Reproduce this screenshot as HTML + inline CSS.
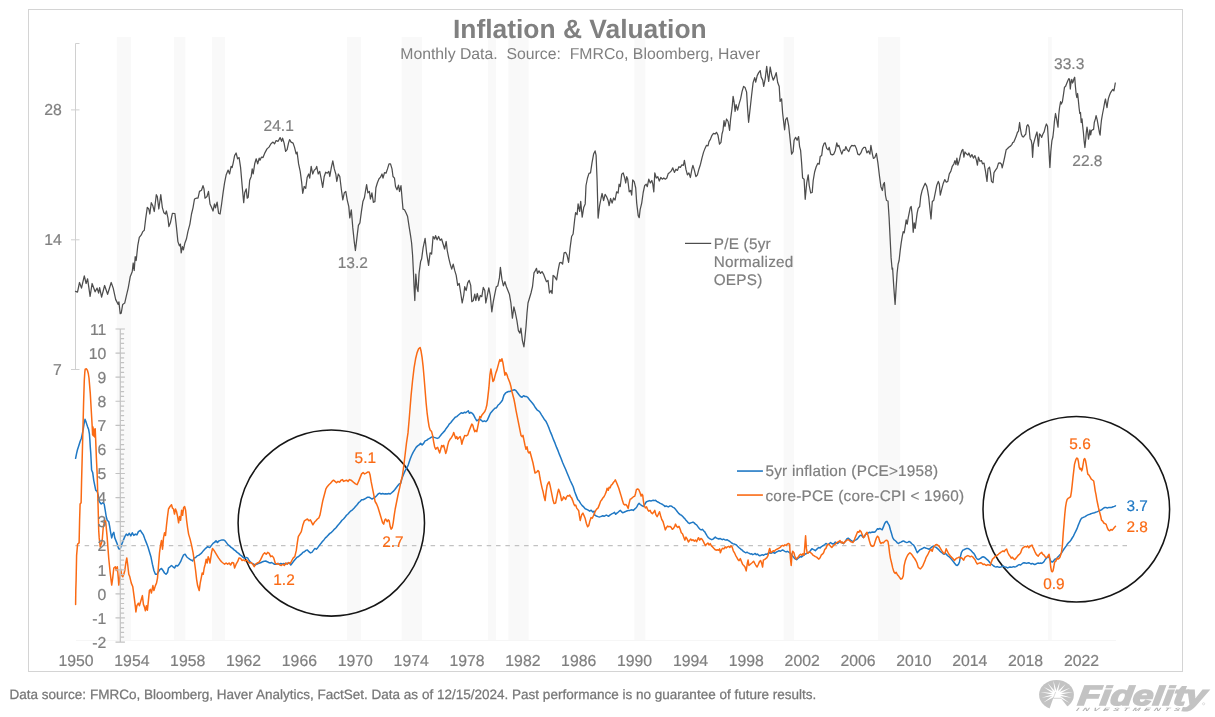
<!DOCTYPE html>
<html><head><meta charset="utf-8"><title>Inflation &amp; Valuation</title>
<style>
html,body{margin:0;padding:0;background:#fff;}
body{width:1215px;height:717px;overflow:hidden;font-family:"Liberation Sans",sans-serif;}
svg{display:block;position:absolute;left:0;top:0;will-change:transform;}
text{font-family:"Liberation Sans",sans-serif;text-rendering:geometricPrecision;}
.ax{font-size:15.8px;fill:#7f7f7f;stroke:#7f7f7f;stroke-width:0.2px;}
.dl{font-size:15.5px;fill:#7f7f7f;stroke:#7f7f7f;stroke-width:0.2px;}
.lg{font-size:15.3px;letter-spacing:0.25px;fill:#7f7f7f;stroke:#7f7f7f;stroke-width:0.2px;}
.or{font-size:15.4px;fill:#fa6a14;stroke:#fa6a14;stroke-width:0.2px;}
.bl{font-size:15.4px;fill:#1f78c4;stroke:#1f78c4;stroke-width:0.2px;}
</style></head><body>
<svg width="1215" height="717" viewBox="0 0 1215 717">
<rect x="0" y="0" width="1215" height="717" fill="#fff"/>
<rect x="28.5" y="9.5" width="1154" height="662" fill="#fff" stroke="#d4d4d4" stroke-width="1"/>

<g fill="#f9f9f9">
<rect x="116.8" y="37" width="14.3" height="603"/>
<rect x="174.1" y="37" width="11.3" height="603"/>
<rect x="211.9" y="37" width="13.0" height="603"/>
<rect x="346.9" y="37" width="14.1" height="603"/>
<rect x="401.7" y="37" width="20.3" height="603"/>
<rect x="487.9" y="37" width="8.1" height="603"/>
<rect x="508.4" y="37" width="20.2" height="603"/>
<rect x="634.3" y="37" width="11.1" height="603"/>
<rect x="783.7" y="37" width="10.4" height="603"/>
<rect x="878.0" y="37" width="22.2" height="603"/>
<rect x="1048.0" y="37" width="3.8" height="603"/>
</g>
<line x1="76" y1="640.5" x2="1116" y2="640.5" stroke="#f6f6f6" stroke-width="1"/>
<text x="579.8" y="38.3" text-anchor="middle" font-size="26.4" font-weight="bold" fill="#808080">Inflation &amp; Valuation</text>
<text x="580.2" y="59.3" text-anchor="middle" font-size="15.8" fill="#7f7f7f" xml:space="preserve">Monthly Data.  Source:  FMRCo, Bloomberg, Haver</text>
<g stroke="#d0d0d0" stroke-width="1" fill="none">
<path d="M79.5,43.5 H75.5 V369.5"/>
<line x1="71" y1="109.9" x2="79.5" y2="109.9"/>
<line x1="71" y1="239.8" x2="79.5" y2="239.8"/>
<line x1="71" y1="369.5" x2="79.5" y2="369.5"/>
</g>
<text class="ax" x="61.9" y="115.1" text-anchor="end">28</text>
<text class="ax" x="61.9" y="245.0" text-anchor="end">14</text>
<text class="ax" x="61.9" y="374.9" text-anchor="end">7</text>
<text class="ax" x="76.0" y="666" text-anchor="middle">1950</text>
<text class="ax" x="131.9" y="666" text-anchor="middle">1954</text>
<text class="ax" x="187.7" y="666" text-anchor="middle">1958</text>
<text class="ax" x="243.6" y="666" text-anchor="middle">1962</text>
<text class="ax" x="299.4" y="666" text-anchor="middle">1966</text>
<text class="ax" x="355.3" y="666" text-anchor="middle">1970</text>
<text class="ax" x="411.2" y="666" text-anchor="middle">1974</text>
<text class="ax" x="467.0" y="666" text-anchor="middle">1978</text>
<text class="ax" x="522.9" y="666" text-anchor="middle">1982</text>
<text class="ax" x="578.7" y="666" text-anchor="middle">1986</text>
<text class="ax" x="634.6" y="666" text-anchor="middle">1990</text>
<text class="ax" x="690.5" y="666" text-anchor="middle">1994</text>
<text class="ax" x="746.3" y="666" text-anchor="middle">1998</text>
<text class="ax" x="802.2" y="666" text-anchor="middle">2002</text>
<text class="ax" x="858.0" y="666" text-anchor="middle">2006</text>
<text class="ax" x="913.9" y="666" text-anchor="middle">2010</text>
<text class="ax" x="969.8" y="666" text-anchor="middle">2014</text>
<text class="ax" x="1025.6" y="666" text-anchor="middle">2018</text>
<text class="ax" x="1081.5" y="666" text-anchor="middle">2022</text>
<line x1="75.3" y1="545.6" x2="1128" y2="545.6" stroke="#c2c2c2" stroke-width="1.45" stroke-dasharray="4.5,4.85"/>
<ellipse cx="331.3" cy="523" rx="93.2" ry="93.1" fill="none" stroke="#161616" stroke-width="1.55"/>
<ellipse cx="1076.3" cy="509.25" rx="93.3" ry="92.75" fill="none" stroke="#161616" stroke-width="1.55"/>
<path d="M75.6,458.3 L76.5,453.8 L77.4,450.0 L78.7,446.0 L80.1,441.6 L81.4,438.2 L82.3,433.8 L83.2,429.3 L84.1,423.7 L85.0,419.3 L85.9,421.5 L86.8,424.4 L87.7,427.1 L88.6,429.3 L89.4,433.8 L89.9,440.4 L90.3,447.1 L90.8,453.8 L91.6,470.0 L92.7,472.6 L93.7,480.1 L94.7,485.1 L95.7,490.1 L97.2,491.4 L98.2,495.2 L99.2,501.4 L100.2,502.7 L101.2,504.0 L102.7,502.7 L104.2,504.0 L105.2,510.2 L106.2,516.5 L107.2,520.3 L108.7,521.5 L109.7,526.6 L110.7,532.8 L111.7,537.9 L112.7,534.1 L113.8,532.3 L114.8,537.9 L115.8,540.4 L117.3,544.1 L118.3,547.9 L119.3,549.2 L120.3,548.4 L121.8,544.1 L123.3,540.4 L124.8,536.6 L126.3,534.1 L127.8,535.4 L129.3,533.3 L130.8,535.9 L132.3,532.8 L133.8,535.4 L135.4,534.1 L136.9,534.9 L138.4,531.6 L140.4,530.3 L141.9,532.8 L143.4,534.9 L144.9,539.1 L146.4,542.9 L147.9,546.7 L149.4,551.7 L150.9,556.7 L152.4,564.2 L153.9,570.5 L155.4,574.3 L157.0,574.3 L158.5,571.8 L160.0,569.3 L161.5,568.5 L163.0,570.5 L164.5,573.0 L166.0,574.3 L167.5,572.5 L168.5,568.0 L170.0,566.8 L171.5,565.5 L173.0,566.8 L174.5,568.0 L176.0,565.5 L177.6,566.0 L179.1,564.2 L180.6,561.7 L182.1,558.0 L183.6,554.9 L185.1,554.2 L186.6,556.7 L188.1,558.0 L189.6,559.2 L191.1,560.0 L192.6,561.0 L194.1,558.0 L195.6,557.5 L197.1,555.9 L198.6,555.4 L200.2,554.2 L201.7,552.9 L203.2,550.9 L204.7,549.2 L206.2,547.9 L207.7,546.7 L209.2,547.4 L210.0,547.4 L211.5,545.4 L213.0,543.4 L214.5,542.4 L216.0,540.9 L217.5,542.4 L219.0,540.9 L220.5,540.4 L222.0,539.9 L223.6,539.9 L225.1,540.9 L226.6,542.9 L228.1,544.9 L229.6,545.9 L231.1,547.4 L232.6,548.4 L234.1,549.9 L235.6,550.9 L237.1,552.4 L238.6,553.4 L240.1,554.9 L241.6,555.9 L243.1,557.4 L244.6,558.4 L246.1,557.4 L247.6,557.9 L249.1,560.5 L250.7,562.5 L252.2,563.5 L253.7,564.2 L255.2,565.0 L256.7,564.2 L258.2,563.5 L259.7,563.0 L261.2,562.5 L262.7,561.7 L264.2,561.2 L265.7,561.0 L267.2,561.7 L268.7,562.5 L270.2,563.0 L271.7,562.5 L273.2,563.5 L274.7,564.2 L276.2,564.2 L277.8,563.5 L279.3,564.2 L280.8,563.5 L282.3,564.2 L283.8,563.5 L285.3,564.2 L286.8,563.5 L288.3,563.0 L289.8,563.5 L290.8,565.0 L292.3,563.0 L293.8,561.0 L295.3,559.2 L296.8,557.4 L298.3,556.7 L299.8,555.4 L301.3,554.2 L302.8,552.4 L304.4,551.7 L305.9,550.4 L307.4,549.9 L308.9,551.7 L310.4,552.9 L311.9,552.4 L313.4,550.4 L314.9,548.4 L316.4,549.2 L317.9,547.4 L319.4,545.4 L320.9,543.4 L322.4,541.6 L323.9,539.9 L325.4,537.9 L326.9,536.6 L328.4,534.9 L329.9,533.4 L331.5,532.3 L333.0,530.8 L334.5,529.1 L336.0,527.8 L337.5,525.8 L339.0,524.1 L340.5,522.3 L342.0,520.3 L343.5,519.0 L345.0,517.3 L346.5,515.3 L348.0,514.0 L349.5,512.3 L351.0,510.8 L352.5,509.8 L354.0,508.3 L355.5,506.5 L357.1,504.7 L358.6,502.7 L360.1,501.5 L361.6,499.7 L363.1,499.7 L364.6,499.0 L366.1,498.2 L367.6,497.2 L369.1,497.2 L370.6,498.2 L372.1,499.0 L373.6,498.2 L375.1,497.2 L376.6,495.7 L378.1,494.0 L379.6,493.2 L381.1,494.0 L382.6,493.5 L384.2,494.0 L385.7,493.7 L387.2,494.0 L388.7,493.5 L390.2,494.0 L391.7,492.7 L393.2,491.4 L394.7,489.7 L396.2,487.7 L397.7,485.7 L399.2,483.9 L400.7,483.2 L402.2,477.6 L403.7,473.9 L405.2,470.6 L406.7,468.1 L408.2,465.1 L410.1,459.2 L411.6,455.5 L413.1,452.4 L414.6,449.9 L416.1,447.4 L417.6,445.9 L419.1,444.9 L420.6,443.4 L422.1,444.9 L423.6,443.4 L425.1,440.9 L426.6,440.4 L428.1,439.1 L429.6,438.4 L431.1,437.4 L432.6,436.6 L434.1,437.4 L435.7,437.9 L437.2,438.4 L438.7,437.9 L440.2,435.9 L441.7,434.1 L443.2,432.4 L444.7,430.9 L446.2,428.4 L447.7,426.6 L449.2,424.1 L450.7,422.8 L452.2,420.8 L453.7,419.1 L455.2,417.3 L456.7,416.6 L458.2,415.3 L459.7,414.0 L461.2,412.8 L462.8,413.3 L464.3,412.3 L465.8,412.8 L467.3,411.5 L468.3,410.8 L469.3,413.3 L470.8,412.3 L472.3,413.3 L473.8,415.3 L475.3,418.3 L476.8,420.8 L478.3,419.8 L479.8,419.1 L481.3,420.3 L482.8,421.6 L484.3,420.8 L485.8,421.6 L487.3,420.3 L488.9,416.6 L490.4,413.3 L491.9,411.5 L493.4,409.8 L494.9,408.3 L496.4,407.8 L497.9,405.3 L499.4,404.0 L500.9,402.3 L502.4,400.2 L503.9,395.2 L505.4,393.2 L506.9,392.2 L508.4,391.5 L509.9,391.5 L511.4,390.7 L512.9,390.2 L514.4,389.7 L516.0,390.7 L517.5,392.7 L519.0,394.7 L520.5,396.5 L522.0,397.2 L523.5,395.7 L525.0,396.5 L526.5,396.5 L528.0,397.7 L529.5,399.7 L531.0,401.5 L532.5,403.3 L534.0,405.3 L535.5,407.8 L537.0,409.8 L538.5,410.8 L540.0,412.3 L541.5,414.8 L543.1,417.3 L544.6,419.8 L546.1,421.6 L547.6,424.8 L549.1,428.4 L550.6,432.4 L552.1,435.9 L553.6,439.9 L555.1,443.4 L556.6,447.4 L558.1,450.9 L559.6,454.9 L561.1,458.5 L562.6,462.5 L564.1,466.0 L565.6,469.3 L567.1,473.0 L568.7,476.8 L570.2,480.5 L571.7,483.6 L573.2,486.8 L574.7,491.8 L576.2,495.6 L577.7,499.4 L579.2,501.1 L580.7,503.6 L582.2,505.6 L583.7,506.9 L585.2,508.7 L586.7,509.4 L588.2,510.2 L589.7,511.2 L591.2,510.2 L592.7,511.9 L594.2,511.2 L594.6,515.1 L595.8,515.7 L597.0,516.2 L598.1,516.6 L599.3,517.0 L600.5,516.6 L601.6,516.2 L602.8,515.7 L604.0,516.2 L605.2,515.7 L606.3,515.1 L607.5,515.7 L608.7,516.2 L609.8,515.1 L611.0,514.3 L612.2,513.7 L613.4,513.1 L614.5,512.3 L615.7,514.3 L616.9,513.1 L618.0,512.3 L619.2,511.2 L620.4,510.4 L621.6,511.8 L622.7,512.7 L623.9,512.3 L625.1,511.8 L626.2,511.2 L627.4,510.8 L628.6,510.4 L629.8,510.4 L630.9,510.0 L632.1,509.8 L633.3,510.4 L634.5,509.2 L635.6,508.4 L636.8,506.9 L638.0,504.5 L639.1,503.4 L640.3,504.5 L641.5,505.3 L642.7,506.1 L643.8,506.5 L645.0,503.9 L646.2,502.0 L647.3,501.4 L648.5,501.0 L649.7,500.6 L650.9,501.0 L652.0,500.6 L653.2,500.2 L654.4,500.6 L655.5,500.2 L656.7,501.4 L657.9,502.0 L659.1,502.6 L660.2,503.4 L661.4,503.9 L662.6,504.5 L663.8,505.3 L664.9,506.5 L666.1,505.9 L667.3,506.5 L668.4,506.9 L669.6,506.1 L670.8,505.9 L672.0,506.5 L673.1,507.3 L674.3,507.9 L675.5,509.2 L676.6,510.8 L677.8,512.3 L679.0,513.7 L680.2,514.7 L681.3,515.1 L682.5,516.2 L683.7,517.6 L684.8,518.6 L686.0,520.2 L687.2,521.5 L688.4,522.9 L689.5,523.5 L690.7,522.9 L691.9,522.5 L693.0,522.1 L694.2,522.9 L695.4,524.1 L696.6,524.8 L697.7,526.4 L698.9,528.0 L700.1,529.3 L701.2,529.9 L702.4,529.3 L703.6,530.7 L704.8,531.9 L705.9,533.8 L707.1,535.8 L708.3,537.7 L709.5,538.5 L710.6,539.1 L711.8,539.7 L713.0,539.1 L714.1,538.1 L715.3,537.1 L716.5,538.1 L717.7,538.5 L718.8,539.1 L720.0,538.5 L721.2,539.1 L722.3,539.7 L723.5,539.1 L724.7,539.7 L725.9,540.1 L727.0,539.7 L728.2,540.5 L729.4,541.1 L730.5,542.0 L731.7,543.0 L732.9,543.6 L734.1,544.0 L735.2,544.4 L736.4,545.0 L737.6,546.3 L738.8,547.5 L739.9,548.3 L741.1,549.5 L742.3,550.2 L743.4,551.4 L744.6,552.2 L745.8,552.8 L747.0,552.2 L748.1,552.8 L749.3,553.4 L750.5,554.1 L751.6,553.8 L752.8,554.7 L754.0,554.1 L755.2,553.4 L756.3,554.7 L757.5,554.1 L758.7,555.3 L759.8,555.7 L761.0,555.3 L762.2,554.7 L763.4,555.3 L764.5,554.7 L765.7,554.1 L766.9,554.3 L768.0,553.4 L769.2,552.8 L769.7,552.7 L770.9,553.2 L772.0,552.7 L773.2,552.3 L774.4,553.2 L775.5,552.7 L776.7,551.9 L777.9,551.3 L779.1,550.7 L780.2,551.3 L781.4,550.7 L782.6,549.9 L783.8,550.7 L784.9,551.3 L786.1,551.9 L787.3,551.3 L788.4,551.9 L789.6,552.7 L790.8,553.8 L792.0,555.2 L793.1,556.6 L794.3,558.1 L795.5,559.1 L796.6,559.7 L797.8,558.5 L799.0,557.7 L800.2,556.6 L801.3,557.1 L802.5,556.2 L803.7,555.2 L804.8,554.2 L806.0,553.8 L807.2,553.2 L808.4,552.7 L809.5,551.9 L810.7,550.3 L811.9,548.8 L813.0,549.3 L814.2,549.9 L815.4,550.7 L816.6,549.3 L817.7,548.4 L818.9,547.4 L820.1,548.0 L821.2,546.8 L822.4,546.0 L823.6,545.4 L824.8,544.5 L825.9,543.5 L827.1,544.1 L828.3,544.5 L829.5,543.5 L830.6,542.5 L831.8,543.5 L833.0,544.1 L834.1,543.5 L835.3,542.1 L836.5,542.9 L837.7,543.5 L838.8,542.5 L840.0,541.5 L841.2,542.1 L842.3,542.9 L843.5,543.5 L844.7,542.1 L845.9,540.5 L847.0,538.6 L848.2,538.2 L849.4,539.0 L850.5,540.2 L851.7,540.9 L852.9,541.5 L854.1,540.9 L855.2,540.2 L856.4,539.6 L857.6,538.6 L858.8,537.0 L859.9,535.7 L861.1,535.1 L862.3,536.2 L863.4,537.6 L864.6,535.7 L865.8,534.3 L867.0,533.7 L868.1,533.1 L869.3,532.3 L870.5,532.7 L871.6,532.3 L872.8,532.0 L874.0,532.3 L875.2,531.8 L876.3,530.4 L877.5,528.8 L878.7,529.2 L879.8,528.4 L881.0,529.2 L882.2,529.8 L883.4,526.9 L884.5,523.9 L885.7,522.0 L886.9,521.4 L888.0,523.4 L889.2,525.3 L890.4,529.8 L891.6,533.7 L892.7,537.6 L893.9,539.6 L895.1,540.5 L896.2,541.5 L897.4,542.9 L898.6,543.5 L899.8,542.5 L900.9,542.1 L902.1,541.5 L903.3,540.9 L904.5,541.5 L905.6,542.1 L906.8,542.5 L908.0,542.1 L909.1,541.5 L910.3,542.1 L911.5,543.5 L912.7,544.5 L913.8,545.4 L915.0,547.4 L916.2,550.3 L917.3,552.7 L918.5,551.3 L919.7,549.9 L920.9,549.3 L922.0,548.8 L923.2,548.0 L924.4,547.4 L925.5,548.0 L926.7,548.4 L927.9,548.8 L929.1,549.3 L930.2,548.4 L931.4,547.4 L932.6,546.4 L933.8,546.0 L934.9,546.8 L936.1,547.4 L937.3,548.4 L938.4,549.3 L939.6,550.7 L940.8,551.9 L942.0,552.7 L943.1,553.8 L944.3,554.2 L945.5,553.2 L946.6,554.6 L947.8,555.8 L949.0,556.6 L950.2,557.7 L951.3,559.1 L952.5,560.5 L953.7,562.0 L954.8,563.6 L956.0,565.0 L957.2,565.5 L958.4,564.4 L959.5,562.0 L960.3,557.1 L961.5,552.3 L962.7,550.3 L963.8,549.9 L964.4,549.4 L965.5,549.0 L966.7,548.4 L967.9,548.4 L969.1,549.0 L970.2,549.8 L971.4,550.9 L972.6,552.3 L973.8,553.3 L974.9,555.2 L976.1,557.6 L977.3,559.1 L978.4,559.5 L979.6,558.8 L980.8,558.2 L982.0,557.2 L983.1,556.8 L984.3,557.2 L985.5,558.2 L986.6,559.1 L987.8,560.1 L989.0,561.5 L990.2,563.0 L991.3,564.0 L992.5,565.0 L993.7,566.0 L994.8,566.6 L996.0,567.0 L997.2,566.6 L998.4,567.0 L999.5,567.3 L1000.7,567.0 L1001.9,566.6 L1003.0,566.0 L1004.2,566.6 L1005.4,567.0 L1006.6,567.3 L1007.7,567.9 L1008.9,567.3 L1010.1,567.0 L1011.2,567.3 L1012.4,567.0 L1013.6,566.6 L1014.8,567.0 L1015.9,566.6 L1017.1,566.0 L1018.3,565.0 L1019.5,564.6 L1020.6,565.0 L1021.8,564.0 L1023.0,563.0 L1024.1,562.7 L1025.3,563.0 L1026.5,563.4 L1027.7,563.0 L1028.8,562.7 L1030.0,563.4 L1031.2,564.0 L1032.3,563.4 L1033.5,564.0 L1034.7,564.6 L1035.9,564.0 L1037.0,563.4 L1038.2,563.0 L1039.4,563.4 L1040.5,563.0 L1041.7,563.4 L1042.9,562.7 L1044.1,561.5 L1045.2,559.5 L1046.4,558.2 L1047.6,557.2 L1048.8,556.8 L1049.9,559.1 L1051.1,561.5 L1052.3,562.1 L1053.4,561.1 L1054.6,559.5 L1055.8,558.8 L1057.0,558.2 L1058.1,556.8 L1059.3,555.6 L1060.5,554.3 L1061.6,552.9 L1062.8,550.9 L1064.0,549.0 L1065.2,547.4 L1066.3,545.9 L1067.5,543.9 L1068.7,542.5 L1069.8,541.6 L1071.0,540.0 L1072.2,538.0 L1073.4,536.1 L1074.5,533.8 L1075.7,531.4 L1076.9,528.9 L1078.0,525.9 L1079.2,523.0 L1080.4,520.1 L1081.6,518.1 L1082.7,517.7 L1083.9,517.1 L1085.1,516.6 L1086.2,515.8 L1087.4,515.2 L1088.6,514.6 L1089.8,514.2 L1090.9,513.8 L1092.1,513.4 L1093.3,513.0 L1094.5,512.7 L1095.6,512.3 L1096.8,511.9 L1098.0,511.3 L1099.1,510.7 L1100.3,510.3 L1101.5,509.9 L1102.7,508.8 L1103.8,508.0 L1105.0,507.4 L1106.2,507.6 L1107.3,508.0 L1108.5,507.6 L1109.7,507.4 L1110.9,507.6 L1112.0,507.2 L1113.2,506.8 L1114.4,506.4 L1115.5,505.8" fill="none" stroke="#1f78c4" stroke-width="1.5" stroke-linejoin="round" stroke-linecap="round"/>
<path d="M75.6,604.4 L75.8,590.6 L76.1,580.6 L76.6,555.4 L77.6,544.1 L79.1,542.9 L79.6,520.3 L80.1,504.0 L81.1,502.7 L81.6,479.9 L82.3,453.8 L83.0,427.1 L83.6,402.5 L84.3,380.2 L84.8,372.4 L85.2,369.1 L86.3,368.8 L87.4,370.2 L88.3,373.5 L89.0,378.0 L90.3,393.6 L91.2,409.2 L92.1,424.8 L92.6,434.9 L93.0,427.1 L93.5,436.0 L94.1,429.3 L94.8,437.1 L95.2,428.8 L95.7,440.4 L96.4,458.3 L97.2,475.1 L97.7,492.7 L98.2,510.2 L98.7,530.3 L99.2,537.9 L100.2,546.7 L101.2,544.1 L102.2,540.4 L103.2,527.8 L104.7,520.3 L105.7,521.5 L107.2,537.9 L108.7,558.0 L110.2,573.0 L111.7,585.1 L112.7,578.1 L113.8,568.0 L115.3,566.8 L116.3,570.5 L117.3,566.8 L118.3,578.1 L118.8,585.1 L119.8,578.1 L120.8,569.3 L121.8,575.5 L122.8,576.8 L123.8,574.3 L124.8,570.5 L125.8,563.0 L126.8,558.0 L127.8,565.5 L128.8,574.3 L129.8,576.8 L131.3,583.1 L132.8,586.8 L134.3,598.1 L135.4,606.9 L135.9,612.0 L136.9,605.7 L138.4,603.2 L139.4,605.7 L140.9,600.7 L142.4,595.6 L143.4,604.4 L144.4,606.9 L145.4,610.7 L146.4,605.7 L147.4,610.2 L148.4,600.7 L149.4,590.6 L150.4,589.4 L151.4,593.1 L152.9,585.6 L153.9,590.6 L155.4,585.6 L156.5,583.1 L157.5,578.1 L158.5,565.5 L159.5,552.9 L160.5,545.4 L161.5,540.4 L162.5,549.2 L163.5,537.9 L164.5,532.8 L165.5,535.4 L166.5,525.3 L167.5,516.5 L168.5,509.0 L170.0,506.5 L171.5,504.7 L172.5,508.2 L173.5,509.0 L174.5,514.0 L175.5,509.0 L176.5,511.5 L177.6,516.5 L178.6,522.8 L179.6,516.5 L180.6,520.3 L181.6,510.2 L182.6,515.3 L183.6,507.7 L184.6,506.5 L185.6,510.2 L186.6,520.3 L187.6,527.8 L188.6,534.1 L190.1,539.1 L191.6,545.4 L193.1,552.9 L194.6,563.0 L195.6,570.5 L196.6,579.3 L197.6,585.6 L199.2,590.6 L200.2,583.1 L201.2,578.1 L202.2,573.0 L203.2,574.3 L204.2,568.0 L205.2,564.2 L206.2,559.2 L207.2,563.0 L208.2,556.7 L209.2,559.2 L210.0,563.0 L211.5,552.9 L212.5,548.4 L214.0,550.4 L215.5,552.9 L217.0,555.4 L218.5,557.9 L220.0,559.9 L221.5,561.7 L223.0,563.0 L224.6,564.2 L226.1,563.0 L227.6,564.2 L229.1,563.0 L230.6,565.0 L232.1,562.5 L233.6,563.0 L234.6,568.0 L236.1,564.2 L237.6,561.7 L239.1,557.9 L240.6,558.4 L242.1,560.5 L243.6,559.9 L245.1,561.0 L246.6,559.9 L248.1,561.7 L249.6,563.0 L251.2,562.5 L252.7,564.2 L254.2,566.7 L255.7,564.2 L257.2,563.0 L258.7,562.5 L260.2,560.5 L261.7,557.4 L263.2,554.2 L264.7,552.9 L266.2,554.2 L267.7,552.4 L269.2,553.4 L270.7,556.7 L272.2,555.9 L273.7,557.9 L275.2,563.0 L276.8,564.2 L278.3,563.5 L279.8,565.0 L281.3,565.5 L282.8,564.2 L284.3,565.5 L285.8,563.0 L287.3,564.2 L288.8,562.5 L290.3,563.5 L291.8,560.5 L293.3,557.9 L294.8,556.7 L296.3,550.4 L297.3,542.9 L298.3,536.6 L299.8,534.1 L301.3,531.6 L302.8,525.3 L304.4,520.8 L305.9,519.8 L307.4,519.0 L308.9,520.8 L310.4,519.8 L311.9,522.8 L312.9,524.8 L314.4,522.3 L315.9,520.8 L317.4,519.0 L318.9,517.8 L319.9,515.3 L320.9,510.3 L321.9,505.2 L322.9,500.2 L323.9,496.5 L324.9,492.7 L325.9,488.9 L327.4,486.4 L328.9,484.7 L330.5,483.2 L332.0,481.4 L333.5,480.2 L335.0,481.4 L336.5,482.7 L338.0,481.4 L339.5,482.2 L341.0,480.2 L342.5,479.6 L343.5,481.4 L345.0,480.7 L346.5,480.2 L348.0,481.4 L349.5,479.6 L351.0,480.2 L352.5,481.4 L354.0,482.7 L355.5,483.9 L357.1,484.7 L358.6,481.4 L360.1,477.6 L361.6,473.9 L363.1,472.6 L364.6,473.9 L366.1,473.1 L367.6,472.1 L369.1,472.1 L370.1,475.1 L371.1,481.4 L372.1,486.4 L373.1,491.4 L374.1,496.5 L375.1,501.5 L376.6,504.0 L378.1,507.8 L379.6,512.8 L381.1,517.8 L382.6,522.8 L383.7,524.1 L384.7,520.3 L385.7,519.0 L387.2,521.6 L388.2,519.8 L389.2,520.8 L390.2,526.6 L391.2,529.1 L392.2,527.8 L393.2,522.8 L394.2,515.3 L395.2,509.0 L396.2,504.0 L397.2,499.0 L398.2,494.0 L399.7,487.7 L401.2,480.2 L402.0,478.0 L403.5,468.0 L405.0,455.5 L406.5,442.9 L408.0,432.9 L409.1,420.3 L410.1,407.8 L411.1,395.2 L412.6,380.2 L414.1,367.6 L415.6,358.8 L417.1,352.6 L418.6,348.8 L420.1,347.5 L421.1,351.3 L422.1,357.6 L423.1,366.4 L424.1,377.7 L425.1,390.2 L426.1,402.8 L427.1,412.8 L428.1,420.3 L429.1,426.6 L430.1,429.9 L431.6,431.6 L432.6,435.4 L433.6,441.6 L434.6,446.7 L435.7,449.2 L436.7,447.9 L437.7,447.4 L438.7,450.4 L439.7,452.9 L440.7,449.2 L441.7,445.4 L442.7,446.7 L443.7,445.4 L444.7,449.2 L445.7,453.4 L446.7,450.4 L447.7,445.4 L448.7,441.6 L450.2,439.1 L451.2,437.9 L452.7,435.4 L453.7,432.4 L454.7,435.4 L455.7,438.4 L456.7,436.6 L457.7,439.1 L459.2,437.4 L460.2,436.6 L461.2,440.4 L461.8,444.2 L462.8,440.4 L463.8,437.9 L464.8,435.4 L466.3,435.9 L467.8,434.9 L468.8,431.6 L469.8,429.1 L470.8,426.6 L471.8,424.1 L472.8,425.3 L473.8,429.1 L474.8,431.6 L475.8,430.4 L476.8,431.6 L477.8,426.6 L478.8,421.6 L479.8,416.6 L480.8,417.8 L481.8,415.3 L482.8,414.0 L483.8,412.8 L484.8,411.5 L485.8,409.0 L486.8,405.3 L487.8,397.7 L488.9,387.7 L489.9,375.2 L490.9,368.9 L491.9,375.2 L492.9,381.4 L493.9,380.2 L494.9,376.4 L495.9,372.6 L496.9,370.1 L497.9,366.4 L498.9,362.6 L499.9,359.6 L500.9,361.3 L501.9,358.8 L502.9,362.6 L503.9,368.9 L504.9,375.2 L505.9,372.6 L506.9,374.6 L507.9,377.7 L508.9,380.2 L509.9,382.7 L510.9,386.4 L511.9,391.5 L512.9,395.2 L513.9,399.0 L514.9,404.0 L516.0,410.3 L517.0,415.3 L518.0,420.3 L519.0,425.3 L520.0,430.4 L521.0,435.4 L522.0,436.6 L523.0,435.4 L524.0,440.4 L525.0,445.4 L526.0,449.2 L527.0,446.7 L528.0,451.7 L529.0,452.9 L530.0,451.7 L531.0,455.5 L532.0,459.2 L533.0,463.0 L534.0,468.0 L535.0,473.0 L536.0,472.5 L537.0,471.8 L538.0,470.5 L539.0,471.8 L540.0,478.0 L541.0,483.1 L542.1,488.1 L543.1,491.8 L544.1,496.9 L545.1,500.6 L546.1,491.8 L547.1,485.6 L548.1,483.1 L549.1,481.8 L550.1,485.6 L551.1,490.6 L552.1,495.6 L553.1,500.6 L554.1,503.6 L555.6,503.1 L556.6,498.1 L557.6,493.1 L558.6,489.3 L559.6,491.8 L560.6,495.6 L561.6,500.6 L562.6,499.4 L563.6,496.9 L564.6,498.1 L565.6,499.4 L566.6,496.9 L567.6,495.6 L568.7,496.1 L569.7,495.1 L570.7,496.9 L571.7,498.1 L572.7,500.6 L573.7,503.6 L574.7,505.6 L575.7,505.1 L576.7,508.1 L577.7,509.4 L578.7,510.7 L579.4,515.7 L580.2,520.5 L580.9,517.6 L581.7,514.7 L582.9,513.1 L584.1,515.7 L585.2,518.6 L586.4,523.5 L587.6,526.8 L588.8,525.4 L589.9,520.9 L591.1,517.6 L592.3,518.2 L593.4,515.7 L594.6,512.7 L595.8,510.4 L597.0,508.8 L598.1,507.9 L599.3,504.9 L600.5,501.4 L601.6,500.0 L602.8,498.1 L604.0,496.7 L605.2,494.2 L606.3,491.6 L607.1,488.3 L608.3,490.3 L609.1,487.3 L610.2,487.7 L611.0,485.4 L612.2,484.4 L613.4,482.5 L614.5,481.1 L615.3,479.9 L616.5,482.5 L617.7,485.4 L618.8,488.3 L620.0,492.2 L621.2,496.1 L622.3,500.0 L623.5,503.9 L624.7,504.9 L625.9,504.5 L627.0,505.9 L628.2,508.4 L629.0,503.9 L630.2,499.1 L631.3,498.7 L632.5,497.5 L633.7,496.7 L634.8,496.1 L635.6,493.2 L636.4,489.7 L637.6,488.9 L638.8,489.7 L639.9,492.2 L641.1,496.1 L641.9,494.2 L642.7,495.2 L643.4,501.0 L644.2,505.9 L645.4,507.9 L646.6,506.9 L647.7,509.8 L648.9,511.2 L650.1,510.4 L651.2,512.7 L652.4,513.7 L653.6,512.3 L654.8,510.4 L655.9,514.7 L657.1,516.6 L658.3,514.3 L659.5,511.8 L660.6,515.7 L661.8,519.6 L663.0,521.5 L664.1,525.4 L665.3,529.9 L666.5,527.4 L667.7,526.0 L668.8,526.8 L670.0,526.4 L671.2,527.4 L672.3,529.3 L673.5,528.4 L674.7,526.4 L675.5,524.1 L676.6,526.4 L677.8,527.4 L679.0,526.4 L680.2,529.3 L681.3,532.7 L682.5,533.8 L683.7,537.1 L684.8,540.1 L686.0,537.1 L687.2,539.1 L688.4,542.0 L689.5,540.5 L690.7,539.1 L691.9,540.5 L693.0,539.7 L694.2,541.1 L695.4,540.1 L696.6,541.6 L697.7,539.1 L698.5,537.7 L699.7,540.1 L700.9,538.5 L702.0,539.1 L703.2,541.1 L704.4,543.6 L705.5,545.5 L706.7,544.0 L707.9,543.0 L709.1,545.0 L710.2,543.6 L711.4,545.9 L712.6,546.9 L713.8,548.3 L714.9,549.5 L716.1,550.2 L717.3,549.8 L718.4,550.2 L719.6,548.9 L720.4,552.8 L721.6,549.5 L722.7,548.3 L723.9,548.9 L725.1,546.9 L726.2,547.9 L727.4,546.9 L728.6,546.3 L729.8,547.5 L730.9,545.9 L732.1,546.9 L733.3,550.8 L734.5,552.8 L735.6,555.3 L736.8,557.3 L738.0,559.6 L739.1,560.6 L740.3,558.6 L741.5,561.6 L742.7,564.5 L743.8,565.5 L745.0,567.0 L746.2,570.9 L747.3,563.5 L748.1,560.0 L748.9,565.5 L750.1,564.5 L751.2,563.5 L752.4,562.5 L753.6,561.2 L754.8,563.5 L755.9,565.5 L757.1,567.0 L758.3,564.5 L759.5,561.6 L760.6,560.6 L761.8,563.5 L762.6,567.0 L763.4,560.0 L764.5,559.6 L765.7,558.6 L766.9,557.7 L768.0,555.7 L769.2,549.8 L769.7,548.4 L770.9,552.7 L772.0,551.9 L773.2,550.7 L774.4,551.3 L775.5,549.9 L776.7,549.3 L777.9,548.8 L779.1,548.0 L780.2,547.4 L781.4,546.0 L782.6,545.4 L783.8,546.0 L784.9,544.8 L786.1,545.4 L787.3,544.1 L788.4,543.5 L789.6,544.1 L790.4,558.1 L791.2,565.5 L792.0,554.2 L792.7,551.3 L793.9,552.7 L794.7,555.8 L795.9,559.1 L797.0,558.1 L798.2,557.1 L799.4,555.2 L800.5,554.2 L801.7,555.2 L802.9,553.8 L804.1,555.2 L804.8,546.4 L805.6,535.7 L806.4,548.4 L807.2,553.2 L808.4,552.7 L809.5,551.9 L810.7,552.7 L811.9,553.8 L813.0,555.2 L814.2,555.8 L815.4,556.6 L816.6,557.1 L817.7,558.1 L818.9,559.1 L820.1,557.7 L821.2,555.2 L822.4,554.2 L823.6,552.7 L824.8,549.3 L825.9,548.4 L827.1,545.4 L828.3,544.1 L829.5,544.8 L830.6,546.4 L831.8,547.4 L833.0,546.0 L834.1,544.8 L835.3,544.1 L836.5,542.9 L837.7,542.1 L838.8,541.5 L840.0,540.5 L841.2,542.9 L842.3,542.1 L843.5,543.5 L844.7,542.1 L845.9,540.9 L847.0,540.2 L848.2,539.6 L849.4,540.5 L850.5,541.5 L851.7,542.1 L852.9,542.5 L854.1,540.5 L855.2,537.6 L856.4,534.7 L857.6,531.8 L858.8,532.3 L859.9,530.4 L861.1,531.8 L862.3,534.7 L863.4,537.6 L864.6,536.6 L865.8,533.7 L867.0,532.3 L868.1,535.7 L869.3,540.5 L870.5,544.5 L871.6,546.0 L872.8,546.4 L874.0,545.4 L875.2,541.5 L876.3,538.2 L877.5,536.2 L878.7,537.6 L879.8,541.5 L881.0,543.5 L882.2,542.5 L883.4,542.9 L884.5,541.5 L885.7,540.5 L886.9,540.2 L888.0,541.5 L888.8,546.4 L889.6,553.2 L890.4,558.1 L891.6,563.0 L892.7,567.9 L893.9,571.8 L895.1,573.4 L896.2,572.2 L897.4,574.7 L898.6,576.1 L899.8,577.7 L900.9,579.2 L902.1,578.6 L903.3,575.7 L904.1,565.9 L905.2,561.1 L906.4,557.7 L907.6,555.2 L908.8,553.8 L909.9,552.7 L911.1,553.8 L912.3,555.2 L913.4,557.1 L914.6,558.5 L915.8,560.5 L917.0,563.0 L918.1,566.9 L919.3,568.3 L920.5,568.9 L921.6,567.5 L922.8,565.9 L924.0,563.0 L925.2,560.1 L926.3,557.1 L927.5,555.2 L928.7,552.7 L929.8,550.7 L931.0,549.3 L932.2,551.3 L933.4,547.4 L934.5,546.0 L935.7,544.8 L936.9,544.5 L938.0,545.4 L939.2,546.4 L940.4,548.4 L941.6,550.3 L942.7,551.9 L943.9,553.8 L945.1,552.7 L946.2,548.8 L947.4,551.3 L948.6,553.8 L949.8,555.2 L950.9,556.6 L952.1,557.7 L953.3,559.1 L954.5,560.5 L955.6,559.1 L956.8,558.1 L958.0,557.7 L959.1,557.1 L960.3,558.1 L961.5,557.7 L962.7,559.1 L963.8,560.1 L964.4,558.2 L965.5,556.8 L966.7,556.2 L967.9,555.6 L969.1,556.2 L970.2,556.8 L971.4,556.2 L972.6,556.8 L973.8,558.2 L974.9,559.5 L976.1,562.1 L977.3,564.0 L978.4,563.4 L979.6,563.0 L980.8,562.7 L982.0,563.4 L983.1,564.6 L984.3,564.0 L985.5,565.0 L986.6,565.4 L987.8,564.6 L989.0,565.0 L990.2,565.4 L991.3,562.1 L992.5,559.1 L993.7,558.2 L994.8,556.8 L996.0,556.2 L997.2,555.2 L998.4,554.3 L999.5,553.3 L1000.7,552.3 L1001.9,551.7 L1003.0,550.9 L1004.2,551.7 L1005.4,549.8 L1006.6,549.0 L1007.7,552.3 L1008.9,554.8 L1010.1,556.2 L1011.2,558.2 L1012.4,557.2 L1013.6,558.8 L1014.8,559.5 L1015.9,558.2 L1017.1,556.8 L1018.3,555.2 L1019.5,554.3 L1020.6,552.9 L1021.8,549.4 L1023.0,547.8 L1024.1,547.0 L1025.3,546.4 L1026.5,547.0 L1027.7,545.9 L1028.8,547.8 L1030.0,546.4 L1031.2,545.5 L1032.0,545.1 L1032.7,547.0 L1033.5,548.4 L1034.7,551.3 L1035.9,553.7 L1037.0,555.2 L1038.2,556.2 L1039.4,554.3 L1040.5,553.3 L1041.7,552.3 L1042.9,554.3 L1044.1,555.2 L1045.2,556.8 L1046.4,557.6 L1047.6,556.8 L1048.4,555.2 L1049.1,554.3 L1049.9,559.1 L1050.7,567.0 L1051.5,571.2 L1052.3,571.8 L1053.0,570.9 L1053.8,567.0 L1054.6,562.1 L1055.8,561.1 L1057.0,558.2 L1058.1,559.1 L1059.3,558.2 L1060.1,556.8 L1060.9,554.3 L1061.6,551.3 L1062.4,545.5 L1063.2,533.8 L1064.0,524.0 L1064.8,514.2 L1065.5,507.4 L1066.3,502.5 L1067.1,499.6 L1068.3,498.2 L1069.5,497.6 L1070.6,496.6 L1071.4,491.8 L1072.2,484.9 L1073.0,477.1 L1073.8,470.3 L1074.5,464.4 L1075.3,461.5 L1076.1,459.1 L1076.9,458.0 L1077.7,458.6 L1078.4,461.5 L1079.2,467.3 L1080.0,469.3 L1080.8,468.3 L1081.6,470.9 L1082.3,469.3 L1083.1,464.4 L1083.9,459.5 L1084.7,458.6 L1085.5,460.5 L1086.2,464.4 L1087.0,469.3 L1087.8,474.2 L1089.0,475.2 L1090.2,477.1 L1091.3,479.1 L1092.5,480.0 L1093.7,481.0 L1094.5,485.9 L1095.2,490.8 L1096.0,494.7 L1096.8,499.6 L1097.6,503.5 L1098.4,507.4 L1099.1,510.3 L1099.9,513.2 L1100.7,516.2 L1101.5,520.1 L1102.7,521.1 L1103.8,523.0 L1105.0,523.6 L1106.2,524.4 L1107.3,527.9 L1108.5,530.2 L1109.7,530.8 L1110.9,529.5 L1112.0,530.2 L1113.2,528.9 L1114.4,527.5 L1115.5,526.3" fill="none" stroke="#fa6a14" stroke-width="1.5" stroke-linejoin="round" stroke-linecap="round"/>
<path d="M75.5,291.3 L77.5,292.1 L79.5,282.5 L81.5,288.1 L84.3,275.8 L86.1,283.5 L87.6,278.8 L90.1,296.3 L92.1,283.5 L95.1,291.8 L97.1,288.1 L98.6,293.1 L99.6,287.6 L101.6,297.1 L104.6,285.5 L107.6,294.3 L111.2,282.5 L113.2,288.1 L115.7,299.6 L118.2,304.4 L118.9,301.9 L120.2,313.7 L121.2,313.1 L122.7,304.4 L124.7,303.1 L126.7,294.3 L128.2,288.1 L130.2,276.8 L132.2,271.7 L133.2,263.0 L134.2,270.5 L135.2,256.7 L136.2,260.5 L137.8,245.4 L139.3,237.4 L141.3,234.9 L142.8,231.6 L144.3,230.3 L145.8,217.8 L147.3,207.3 L148.8,209.0 L149.8,214.0 L151.3,202.7 L152.8,205.7 L154.3,211.5 L156.3,194.7 L157.3,196.5 L158.8,209.0 L160.8,194.7 L162.3,207.3 L163.9,212.8 L165.4,214.0 L166.4,211.0 L167.9,217.8 L168.9,226.6 L170.4,222.8 L172.4,213.3 L174.9,213.5 L176.4,226.6 L177.9,241.6 L179.4,245.9 L180.4,244.1 L181.2,252.9 L182.4,246.6 L183.4,249.9 L184.9,242.9 L186.4,239.1 L187.9,231.6 L189.9,224.1 L191.5,214.0 L193.0,207.8 L194.5,199.0 L196.5,198.2 L198.0,198.2 L199.5,191.4 L201.5,190.2 L203.0,185.7 L204.0,188.9 L205.0,198.2 L207.0,196.5 L208.5,191.4 L210.0,204.0 L211.5,207.3 L213.0,211.0 L214.5,204.0 L215.5,207.8 L217.1,202.2 L218.6,213.3 L220.1,214.0 L221.6,204.0 L223.1,192.7 L224.6,182.7 L226.1,175.1 L228.1,170.1 L229.6,173.9 L231.1,166.3 L232.1,167.6 L233.1,163.3 L234.6,155.6 L236.1,153.0 L237.6,158.8 L239.1,157.6 L240.6,167.6 L242.1,185.2 L243.7,202.7 L244.7,192.7 L246.2,188.9 L247.2,198.2 L248.2,197.2 L249.7,180.2 L251.2,176.4 L252.2,168.9 L253.2,173.9 L254.7,163.8 L256.2,158.8 L257.7,163.8 L259.2,158.1 L260.0,160.2 L261.5,157.1 L263.0,157.6 L265.0,152.6 L267.0,148.9 L269.0,147.1 L271.0,143.8 L273.0,142.1 L274.6,143.8 L276.1,140.6 L278.1,141.3 L280.1,137.6 L281.6,141.3 L282.6,138.1 L284.1,143.1 L285.6,151.4 L287.1,149.6 L288.6,142.6 L289.6,139.6 L291.1,142.1 L293.1,143.1 L294.6,147.6 L296.1,153.9 L297.1,152.1 L298.6,163.9 L300.2,171.4 L301.7,182.7 L302.7,193.3 L304.2,186.5 L305.7,188.3 L307.2,177.2 L308.7,174.0 L309.7,178.2 L311.2,166.4 L312.7,174.0 L314.2,170.2 L315.7,168.9 L316.7,166.4 L318.2,174.0 L319.7,171.4 L321.2,179.0 L322.7,187.3 L324.2,176.5 L325.7,172.2 L327.3,173.2 L328.8,171.4 L329.8,176.5 L331.3,167.7 L332.8,160.9 L334.3,168.9 L335.8,174.0 L336.8,181.5 L338.3,174.0 L339.8,176.5 L341.3,189.0 L342.8,199.8 L344.3,192.8 L345.8,191.5 L347.3,200.3 L348.8,206.6 L349.8,217.9 L351.3,209.8 L352.8,227.9 L354.4,243.0 L355.4,250.5 L356.9,237.9 L358.4,225.4 L359.9,222.9 L361.4,211.6 L362.9,201.6 L364.4,197.8 L365.4,191.5 L366.6,184.7 L367.9,192.8 L369.4,191.5 L370.4,199.0 L371.9,192.8 L373.4,202.3 L374.9,201.6 L375.9,187.8 L377.4,182.7 L378.9,179.0 L380.5,177.2 L382.0,174.0 L383.0,178.2 L384.5,172.7 L386.0,173.2 L387.5,168.9 L389.0,163.9 L390.5,163.9 L392.0,168.9 L393.0,176.5 L394.5,178.2 L395.5,186.5 L397.0,189.8 L398.5,185.2 L399.5,191.5 L401.0,185.7 L402.0,197.8 L403.0,209.1 L404.5,209.8 L406.0,212.8 L407.6,216.6 L409.1,226.6 L410.6,235.9 L411.6,243.0 L412.6,255.5 L413.6,275.6 L414.0,285.4 L414.8,300.5 L415.8,274.1 L417.0,287.9 L418.0,291.7 L419.1,272.9 L420.6,261.6 L421.6,259.1 L423.1,247.8 L425.1,238.3 L426.6,252.8 L428.6,265.4 L430.1,252.8 L431.6,254.1 L433.1,236.5 L434.6,239.0 L435.6,235.7 L437.1,239.8 L438.6,236.5 L440.1,240.3 L441.6,239.0 L443.1,244.0 L444.6,249.0 L446.2,241.5 L447.2,250.3 L448.7,257.8 L450.2,264.1 L451.7,269.1 L453.2,264.1 L454.7,270.4 L456.2,275.4 L457.7,285.4 L459.2,283.4 L460.7,293.0 L462.2,303.0 L463.7,295.5 L464.7,286.7 L466.2,290.5 L467.7,282.9 L469.2,280.4 L470.7,285.4 L471.8,301.7 L473.3,300.5 L474.8,294.2 L475.8,300.5 L477.3,293.5 L478.8,300.5 L480.3,295.5 L481.8,296.7 L483.3,287.4 L484.8,290.5 L485.8,303.0 L487.3,295.5 L488.8,287.9 L490.3,295.5 L491.8,311.8 L493.3,301.7 L494.8,294.2 L496.3,286.7 L497.8,285.9 L499.4,277.9 L500.4,267.4 L501.9,279.2 L503.4,285.9 L504.9,281.7 L506.4,286.7 L507.9,290.5 L509.4,294.2 L510.9,303.0 L512.4,318.1 L513.9,306.8 L515.4,313.0 L516.9,320.6 L518.4,330.6 L519.9,333.1 L520.9,328.1 L522.4,340.6 L523.9,346.9 L524.9,338.1 L526.0,326.8 L527.0,313.0 L528.0,303.0 L529.5,298.0 L531.0,293.0 L532.5,286.7 L534.0,272.9 L535.5,270.4 L536.5,268.4 L537.5,273.4 L539.0,270.9 L540.5,273.4 L542.0,271.6 L543.5,274.1 L545.0,277.9 L546.5,281.7 L548.0,280.4 L549.5,293.0 L551.0,290.5 L552.1,293.5 L553.1,275.4 L554.6,276.6 L556.6,279.9 L558.1,270.4 L559.6,262.8 L561.1,262.3 L562.6,264.1 L564.1,252.8 L565.6,252.3 L567.1,255.3 L568.6,262.3 L570.1,247.8 L571.6,236.5 L573.1,234.0 L574.6,220.2 L575.6,212.7 L577.1,214.7 L578.1,203.9 L579.7,211.4 L580.7,201.4 L582.2,217.2 L583.7,207.6 L585.2,203.9 L586.0,185.5 L587.5,178.0 L589.0,173.4 L590.5,172.9 L592.0,162.9 L593.6,154.1 L595.1,150.9 L596.1,155.4 L597.1,180.5 L598.1,218.1 L599.6,205.6 L601.1,198.0 L602.1,193.5 L603.6,200.5 L605.1,194.3 L606.6,196.8 L608.1,200.5 L609.1,205.6 L610.6,198.5 L612.1,203.1 L613.6,198.0 L615.1,200.0 L616.6,191.8 L618.1,193.0 L619.1,184.2 L620.2,186.7 L621.7,174.2 L623.2,172.9 L624.7,178.0 L625.7,183.0 L626.7,176.7 L627.7,179.2 L629.2,191.8 L630.7,190.5 L631.7,195.0 L632.7,180.0 L634.2,181.7 L635.7,188.0 L636.7,203.1 L638.2,215.6 L639.2,217.6 L640.2,209.3 L641.7,203.1 L643.2,192.5 L644.7,185.5 L646.2,184.2 L647.3,186.7 L648.8,179.2 L650.3,183.0 L651.8,180.5 L652.8,184.2 L653.8,191.8 L654.8,172.9 L656.3,178.0 L657.8,176.7 L659.3,181.0 L660.8,177.5 L662.3,179.2 L663.8,178.0 L665.3,179.2 L666.8,178.0 L668.3,173.4 L669.8,172.4 L671.3,170.9 L672.8,167.9 L674.4,172.4 L675.9,169.2 L677.4,170.4 L678.9,166.7 L680.4,167.4 L681.9,164.9 L683.4,165.4 L684.4,160.4 L685.9,169.2 L687.4,174.9 L688.9,172.9 L690.4,177.5 L691.9,169.2 L692.9,165.4 L694.4,170.4 L695.9,176.7 L697.4,174.9 L698.9,169.2 L700.5,164.2 L702.0,157.9 L703.5,152.4 L705.0,148.4 L706.5,145.3 L708.0,145.8 L709.0,141.6 L710.5,139.1 L712.0,135.3 L713.5,133.3 L715.0,134.0 L716.5,132.3 L718.0,135.3 L719.5,144.1 L721.0,142.3 L722.0,134.0 L723.0,130.3 L724.0,120.7 L725.0,126.5 L726.5,119.0 L728.1,121.5 L729.6,130.3 L730.6,119.0 L732.1,107.7 L733.1,96.4 L734.1,102.2 L735.1,111.5 L736.1,104.7 L737.6,110.2 L739.1,103.9 L740.6,98.9 L742.1,91.4 L743.6,86.4 L745.1,87.6 L746.6,92.1 L747.6,109.0 L748.6,122.3 L750.1,109.0 L751.6,95.2 L753.1,82.6 L754.7,77.6 L755.7,82.1 L757.2,75.6 L758.7,72.6 L760.2,70.6 L761.2,77.1 L762.7,80.1 L763.7,86.4 L765.2,78.8 L766.7,66.3 L767.7,75.1 L768.7,81.3 L770.2,67.0 L771.7,75.1 L773.2,80.1 L774.7,77.1 L776.2,72.6 L777.7,82.6 L779.2,86.4 L780.1,101.4 L781.6,98.9 L782.6,112.7 L783.6,121.5 L784.6,129.8 L785.6,119.7 L787.1,117.7 L788.6,125.3 L790.1,139.1 L791.6,154.1 L793.1,151.6 L794.1,140.3 L795.6,137.3 L797.1,140.3 L798.6,136.6 L799.6,146.6 L800.6,150.4 L801.6,162.9 L802.6,178.0 L804.1,179.2 L805.2,199.3 L806.7,183.0 L808.2,174.9 L809.2,185.5 L810.7,193.0 L812.2,192.5 L813.2,180.5 L814.7,171.7 L816.2,166.7 L817.7,163.4 L819.2,164.2 L820.2,156.6 L821.7,155.4 L822.7,147.3 L824.2,143.3 L825.2,142.8 L826.7,148.4 L828.2,149.9 L829.2,147.3 L830.7,154.1 L832.3,154.9 L833.8,154.1 L835.3,150.4 L836.8,142.8 L837.8,146.6 L838.8,145.3 L840.3,149.9 L841.8,154.1 L843.3,149.9 L844.8,150.4 L845.8,146.6 L847.3,149.9 L848.8,151.6 L850.3,147.3 L851.8,145.3 L853.3,145.8 L854.8,145.3 L856.3,148.4 L857.8,154.1 L859.4,154.9 L860.9,152.9 L862.4,149.1 L863.9,147.3 L865.4,147.3 L866.9,152.9 L868.4,150.9 L869.9,154.1 L870.9,145.3 L872.4,154.1 L873.4,158.4 L874.9,157.4 L876.4,153.4 L877.9,162.9 L879.4,175.5 L880.9,186.7 L882.4,190.5 L883.4,184.2 L884.4,182.5 L885.5,195.5 L886.5,200.5 L888.0,201.0 L889.1,217.8 L890.1,237.9 L891.1,257.9 L892.1,269.2 L892.6,268.0 L893.6,284.3 L894.6,298.1 L895.1,304.4 L896.1,288.1 L897.1,273.0 L898.1,264.2 L899.1,260.5 L900.2,250.4 L901.2,242.9 L902.2,236.6 L903.2,231.6 L904.2,232.8 L905.2,226.6 L906.2,219.8 L907.2,224.1 L908.2,217.8 L909.2,212.8 L910.2,207.8 L911.2,206.5 L912.2,215.3 L913.2,232.3 L914.2,222.8 L915.2,228.3 L916.2,220.3 L917.2,212.8 L918.2,208.3 L919.7,206.5 L920.7,196.5 L922.2,190.2 L923.7,186.4 L925.2,183.2 L926.8,186.4 L927.8,191.4 L928.8,197.7 L929.8,207.8 L931.0,219.0 L932.3,201.5 L933.8,200.2 L935.3,192.7 L936.8,185.2 L938.3,181.4 L939.3,183.9 L940.3,195.2 L941.8,188.9 L943.3,183.2 L944.8,179.6 L946.3,182.2 L947.8,181.4 L949.3,173.9 L950.8,171.4 L952.3,166.3 L953.9,163.8 L954.9,160.6 L955.9,164.6 L956.9,158.1 L957.9,165.1 L959.4,160.1 L960.4,155.1 L961.9,150.5 L962.9,149.5 L963.9,157.1 L964.9,152.0 L966.4,153.8 L967.9,155.1 L968.9,153.0 L970.4,157.1 L971.9,154.6 L973.4,158.1 L974.9,155.6 L976.4,160.1 L977.4,165.1 L978.4,157.1 L979.9,161.3 L981.5,160.6 L982.5,163.8 L984.0,163.1 L985.5,171.4 L987.0,181.4 L988.0,168.9 L989.5,167.1 L990.5,172.6 L991.5,181.4 L993.0,182.7 L994.0,172.6 L995.5,170.1 L997.0,168.1 L998.5,163.1 L1000.0,162.8 L1001.5,164.2 L1002.2,167.9 L1003.3,163.3 L1004.7,157.0 L1006.2,149.7 L1007.3,148.8 L1009.1,147.0 L1010.5,146.1 L1012.0,144.3 L1012.7,142.5 L1013.8,142.1 L1015.2,138.8 L1016.3,136.1 L1017.4,132.5 L1018.5,131.2 L1019.6,122.5 L1020.3,128.0 L1021.4,134.3 L1022.5,136.7 L1023.6,137.0 L1024.7,135.2 L1025.7,134.3 L1026.8,126.2 L1027.9,124.7 L1029.0,127.1 L1030.1,138.8 L1031.2,140.3 L1031.9,144.3 L1032.6,157.3 L1033.4,144.3 L1034.4,140.7 L1035.9,135.2 L1037.0,132.0 L1037.7,138.8 L1038.4,146.1 L1039.5,133.8 L1040.6,135.2 L1041.7,137.4 L1042.8,134.3 L1044.2,131.6 L1045.3,127.1 L1046.4,124.0 L1047.5,126.2 L1048.2,137.0 L1049.0,151.5 L1049.9,167.5 L1050.8,151.5 L1051.9,140.7 L1052.9,137.0 L1053.7,129.8 L1054.4,121.6 L1055.5,113.5 L1056.6,118.9 L1057.3,123.4 L1058.0,127.1 L1058.7,115.3 L1059.5,108.0 L1060.6,101.7 L1061.3,104.0 L1062.4,101.7 L1063.5,94.4 L1064.5,87.2 L1065.6,86.3 L1066.7,83.5 L1067.8,80.8 L1068.9,78.6 L1069.6,79.4 L1070.3,89.0 L1071.1,81.7 L1071.8,79.4 L1072.5,83.0 L1073.2,81.7 L1074.0,78.6 L1074.7,77.2 L1075.4,86.3 L1076.2,94.4 L1076.9,97.5 L1077.6,93.5 L1078.3,99.9 L1079.1,108.0 L1079.8,113.5 L1080.5,112.6 L1081.2,122.5 L1082.0,118.9 L1082.7,126.2 L1083.4,132.5 L1084.1,140.7 L1084.9,147.5 L1085.6,140.7 L1086.3,132.5 L1087.0,127.1 L1087.8,132.5 L1088.5,139.2 L1089.2,135.2 L1089.9,129.8 L1090.7,134.9 L1091.4,130.7 L1092.5,129.8 L1093.6,129.4 L1094.3,122.5 L1095.4,118.9 L1096.1,115.6 L1097.2,119.8 L1098.3,126.2 L1099.4,132.5 L1100.1,135.2 L1100.8,126.2 L1101.5,119.8 L1102.6,113.5 L1103.7,108.0 L1104.8,101.7 L1105.5,99.0 L1106.2,103.5 L1107.0,107.7 L1107.7,102.6 L1108.4,98.6 L1109.5,95.3 L1110.6,92.6 L1111.7,90.8 L1112.8,89.5 L1113.9,90.8 L1114.6,87.2 L1115.3,83.0" fill="none" stroke="#4d4d4d" stroke-width="1.25" stroke-linejoin="round" stroke-linecap="round"/>
<g stroke="#c2c2c2" stroke-width="1.2" fill="none">
<line x1="120.3" y1="329.0" x2="120.3" y2="642.0"/>
<path d="M115.5,329.00H124.9M120.3,333.82H124.1M120.3,338.63H124.1M120.3,343.45H124.1M120.3,348.26H124.1M115.5,353.08H124.9M120.3,357.90H124.1M120.3,362.71H124.1M120.3,367.53H124.1M120.3,372.34H124.1M115.5,377.16H124.9M120.3,381.98H124.1M120.3,386.79H124.1M120.3,391.61H124.1M120.3,396.42H124.1M115.5,401.24H124.9M120.3,406.06H124.1M120.3,410.87H124.1M120.3,415.69H124.1M120.3,420.50H124.1M115.5,425.32H124.9M120.3,430.14H124.1M120.3,434.95H124.1M120.3,439.77H124.1M120.3,444.58H124.1M115.5,449.40H124.9M120.3,454.22H124.1M120.3,459.03H124.1M120.3,463.85H124.1M120.3,468.66H124.1M115.5,473.48H124.9M120.3,478.30H124.1M120.3,483.11H124.1M120.3,487.93H124.1M120.3,492.74H124.1M115.5,497.56H124.9M120.3,502.38H124.1M120.3,507.19H124.1M120.3,512.01H124.1M120.3,516.82H124.1M115.5,521.64H124.9M120.3,526.46H124.1M120.3,531.27H124.1M120.3,536.09H124.1M120.3,540.90H124.1M115.5,545.72H124.9M120.3,550.54H124.1M120.3,555.35H124.1M120.3,560.17H124.1M120.3,564.98H124.1M115.5,569.80H124.9M120.3,574.62H124.1M120.3,579.43H124.1M120.3,584.25H124.1M120.3,589.06H124.1M115.5,593.88H124.9M120.3,598.70H124.1M120.3,603.51H124.1M120.3,608.33H124.1M120.3,613.14H124.1M115.5,617.96H124.9M120.3,622.78H124.1M120.3,627.59H124.1M120.3,632.41H124.1M120.3,637.22H124.1M115.5,642.04H124.9"/>
</g>
<text class="ax" x="106.3" y="334.7" text-anchor="end">11</text>
<text class="ax" x="106.3" y="358.8" text-anchor="end">10</text>
<text class="ax" x="106.3" y="382.9" text-anchor="end">9</text>
<text class="ax" x="106.3" y="406.9" text-anchor="end">8</text>
<text class="ax" x="106.3" y="431.0" text-anchor="end">7</text>
<text class="ax" x="106.3" y="455.1" text-anchor="end">6</text>
<text class="ax" x="106.3" y="479.2" text-anchor="end">5</text>
<text class="ax" x="106.3" y="503.3" text-anchor="end">4</text>
<text class="ax" x="106.3" y="527.3" text-anchor="end">3</text>
<text class="ax" x="106.3" y="551.4" text-anchor="end">2</text>
<text class="ax" x="106.3" y="575.5" text-anchor="end">1</text>
<text class="ax" x="106.3" y="599.6" text-anchor="end">0</text>
<text class="ax" x="106.3" y="623.7" text-anchor="end">-1</text>
<text class="ax" x="106.3" y="647.7" text-anchor="end">-2</text>
<line x1="685" y1="243.4" x2="711.2" y2="243.4" stroke="#4d4d4d" stroke-width="1.25"/>
<text class="lg" x="713.7" y="248.7">P/E (5yr</text>
<text class="lg" x="713.7" y="266.7">Normalized</text>
<text class="lg" x="713.7" y="284.8">OEPS)</text>
<line x1="737" y1="471.05" x2="762.9" y2="471.05" stroke="#1f78c4" stroke-width="1.6"/>
<text class="lg" x="765.4" y="475.7">5yr inflation (PCE&gt;1958)</text>
<line x1="737" y1="495.05" x2="762.9" y2="495.05" stroke="#fa6a14" stroke-width="1.6"/>
<text class="lg" x="765.4" y="500.8">core-PCE (core-CPI &lt; 1960)</text>
<text class="dl" x="278.7" y="131.1" text-anchor="middle">24.1</text>
<text class="dl" x="352.8" y="268" text-anchor="middle">13.2</text>
<text class="dl" x="1069.2" y="69" text-anchor="middle">33.3</text>
<text class="dl" x="1087.4" y="166" text-anchor="middle">22.8</text>
<text class="or" x="284" y="585" text-anchor="middle">1.2</text>
<text class="or" x="365.3" y="463.1" text-anchor="middle">5.1</text>
<text class="or" x="392.9" y="547.4" text-anchor="middle">2.7</text>
<text class="or" x="1080" y="448.8" text-anchor="middle">5.6</text>
<text class="or" x="1053.9" y="588.5" text-anchor="middle">0.9</text>
<text class="or" x="1137.2" y="532.2" text-anchor="middle">2.8</text>
<text class="bl" x="1137.2" y="511.3" text-anchor="middle">3.7</text>
<text x="9.5" y="698.6" font-size="13.52" fill="#777" stroke="#777" stroke-width="0.25">Data source: FMRCo, Bloomberg, Haver Analytics, FactSet. Data as of 12/15/2024. Past performance is no guarantee of future results.</text>
<g>
<ellipse cx="1056.5" cy="694.8" rx="17.4" ry="14.9" fill="#c3c3c3"/>
<polygon points="1056.47,693.21 1040.50,692.09 1056.13,695.59" fill="#fff"/>
<polygon points="1056.04,693.23 1041.71,697.65 1056.56,695.57" fill="#fff"/>
<polygon points="1055.66,693.39 1043.38,702.59 1056.94,695.41" fill="#fff"/>
<polygon points="1056.90,693.36 1043.70,687.05 1055.70,695.44" fill="#fff"/>
<polygon points="1057.25,693.67 1047.80,683.27 1055.35,695.13" fill="#fff"/>
<polygon points="1057.47,694.15 1053.36,680.64 1055.13,694.65" fill="#fff"/>
<polygon points="1057.46,694.72 1059.87,681.49 1055.14,694.08" fill="#fff"/>
<polygon points="1057.20,695.20 1065.64,683.90 1055.40,693.60" fill="#fff"/>
<polygon points="1056.82,695.48 1070.37,687.68 1055.78,693.32" fill="#fff"/>
<polygon points="1056.46,695.59 1073.00,692.09 1056.14,693.21" fill="#fff"/>
<polygon points="1056.05,695.57 1071.52,697.65 1056.55,693.23" fill="#fff"/>
<polygon points="1055.65,695.41 1069.53,702.90 1056.95,693.39" fill="#fff"/>
<ellipse cx="1056.3" cy="694.1" rx="3.6" ry="3.2" fill="#fff" opacity="0.85"/>
<polygon points="1055.6,691.4 1048.9,710.5 1070.6,710.5" fill="#fff"/>
<line x1="1053.2" y1="698.3" x2="1061.4" y2="698.3" stroke="#c3c3c3" stroke-width="0.7"/>
<line x1="1055.7" y1="691.9" x2="1053.3" y2="698" stroke="#c3c3c3" stroke-width="0.6"/>
<g><text transform="translate(1077.2,704.5) skewX(-7)" x="0" y="0" font-size="28" font-weight="bold" font-style="italic" fill="#c3c3c3" stroke="#c3c3c3" stroke-width="1.6" stroke-linejoin="miter" textLength="128" lengthAdjust="spacingAndGlyphs">Fidelity</text><rect x="1076" y="673" width="139" height="12.1" fill="#fff"/></g>
<text transform="translate(1075.8,711.2) scale(1.9,1) skewX(-12)" x="0" y="0" font-size="4.7" font-weight="bold" font-style="italic" fill="#b0b0b0" textLength="54.6" lengthAdjust="spacing">INVESTMENTS</text>
<circle cx="1203.6" cy="703.8" r="1.1" fill="none" stroke="#c3c3c3" stroke-width="0.5"/>
</g>
</svg></body></html>
